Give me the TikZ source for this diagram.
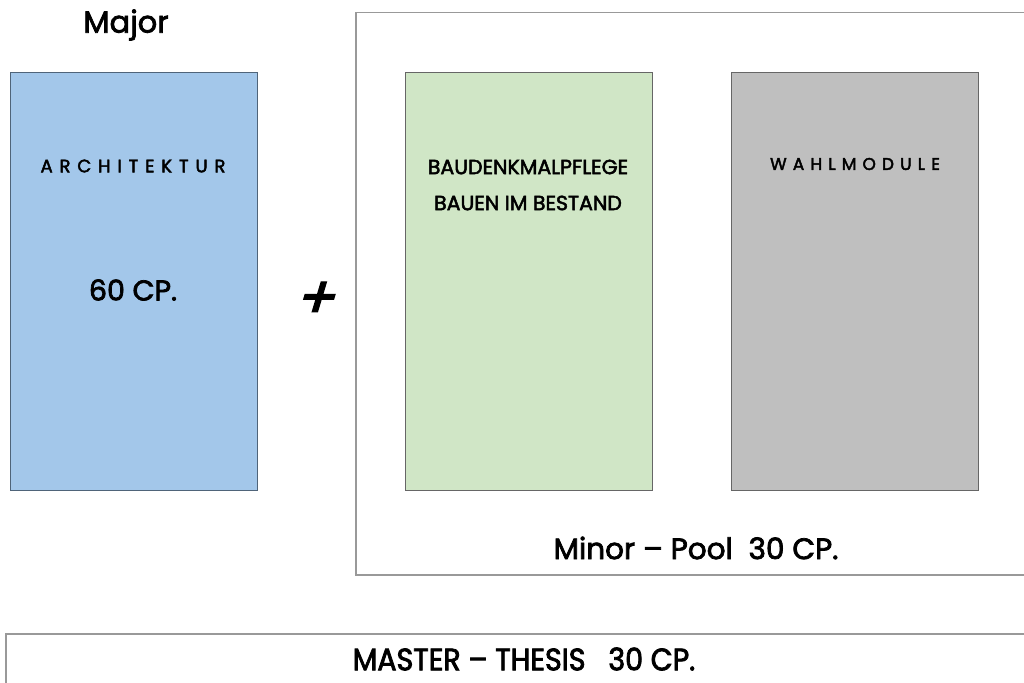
\documentclass[tikz,border=0pt]{standalone}
\usepackage{fontspec}
\setmainfont{Poppins}[FakeBold=2.5]
\newfontfamily\condfont{Poppins}[FakeStretch=0.92, FakeBold=2.5]
\usetikzlibrary{positioning}
\definecolor{CMajor}{HTML}{A3C7EA}
\definecolor{CMajorLine}{HTML}{4F6479}
\definecolor{CMinor}{HTML}{D0E6C6}
\definecolor{CElect}{HTML}{BFBFBF}
\definecolor{CLine}{HTML}{666666}
\definecolor{CFrame}{HTML}{999999}

\begin{document}
\begin{tikzpicture}[x=1pt, y=-1pt,
    modbox/.style={draw=CLine, line width=1.3pt, anchor=north west, inner sep=0pt,
                   minimum width=247pt, minimum height=418pt},
    frame/.style={draw=CFrame, line width=1.5pt, anchor=north west, inner sep=0pt},
    spaced/.style={font=\fontsize{18}{20}\selectfont\addfontfeature{LetterSpace=38}},
    caps/.style={font=\fontsize{20.5}{22}\selectfont},
    big/.style={font=\fontsize{29.5}{32}\selectfont}]
    \useasboundingbox (0,0) rectangle (1024,682);
    \clip (0,0) rectangle (1024,682);

    % Major
    \node (major) at (126,25) {\fontsize{30.5}{34}\selectfont Major};
    \node[modbox, fill=CMajor, draw=CMajorLine] (arch) at (10,72) {};
    \node[spaced] (archtext) at (133,166) {ARCHITEKTUR};
    \node[big, font=\fontsize{28.5}{32}\selectfont] (archcp) at (133,290) {60 CP.};

    \node (plus) at (313,300) {\fontsize{58}{60}\selectfont\addfontfeature{FakeSlant=0.3}+};

    % Minor pool
    \node[frame, minimum width=700pt, minimum height=562pt] (pool) at (355,12) {};
    \node[modbox, fill=CMinor] (denkmal) at (405,72) {};
    \node[caps] (denkmala) at (528,167) {BAUDENKMALPFLEGE};
    \node[caps] (denkmalb) at (528,203) {BAUEN IM BESTAND};
    \node[modbox, fill=CElect] (wahl) at (731,72) {};
    \node[spaced, font=\fontsize{17}{20}\selectfont\addfontfeature{LetterSpace=36}] (wahltext) at (855,164) {WAHLMODULE};
    \node[big] (pooltext) at (696,548) {Minor – Pool\ \ 30 CP.};

    % Thesis
    \node[frame, minimum width=1100pt, minimum height=100pt] (thesis) at (5,633) {};
    \node (thesistext) at (524,659) {\condfont\fontsize{31}{34}\selectfont MASTER – THESIS\ \ \ 30 CP.};
\end{tikzpicture}
\end{document}
